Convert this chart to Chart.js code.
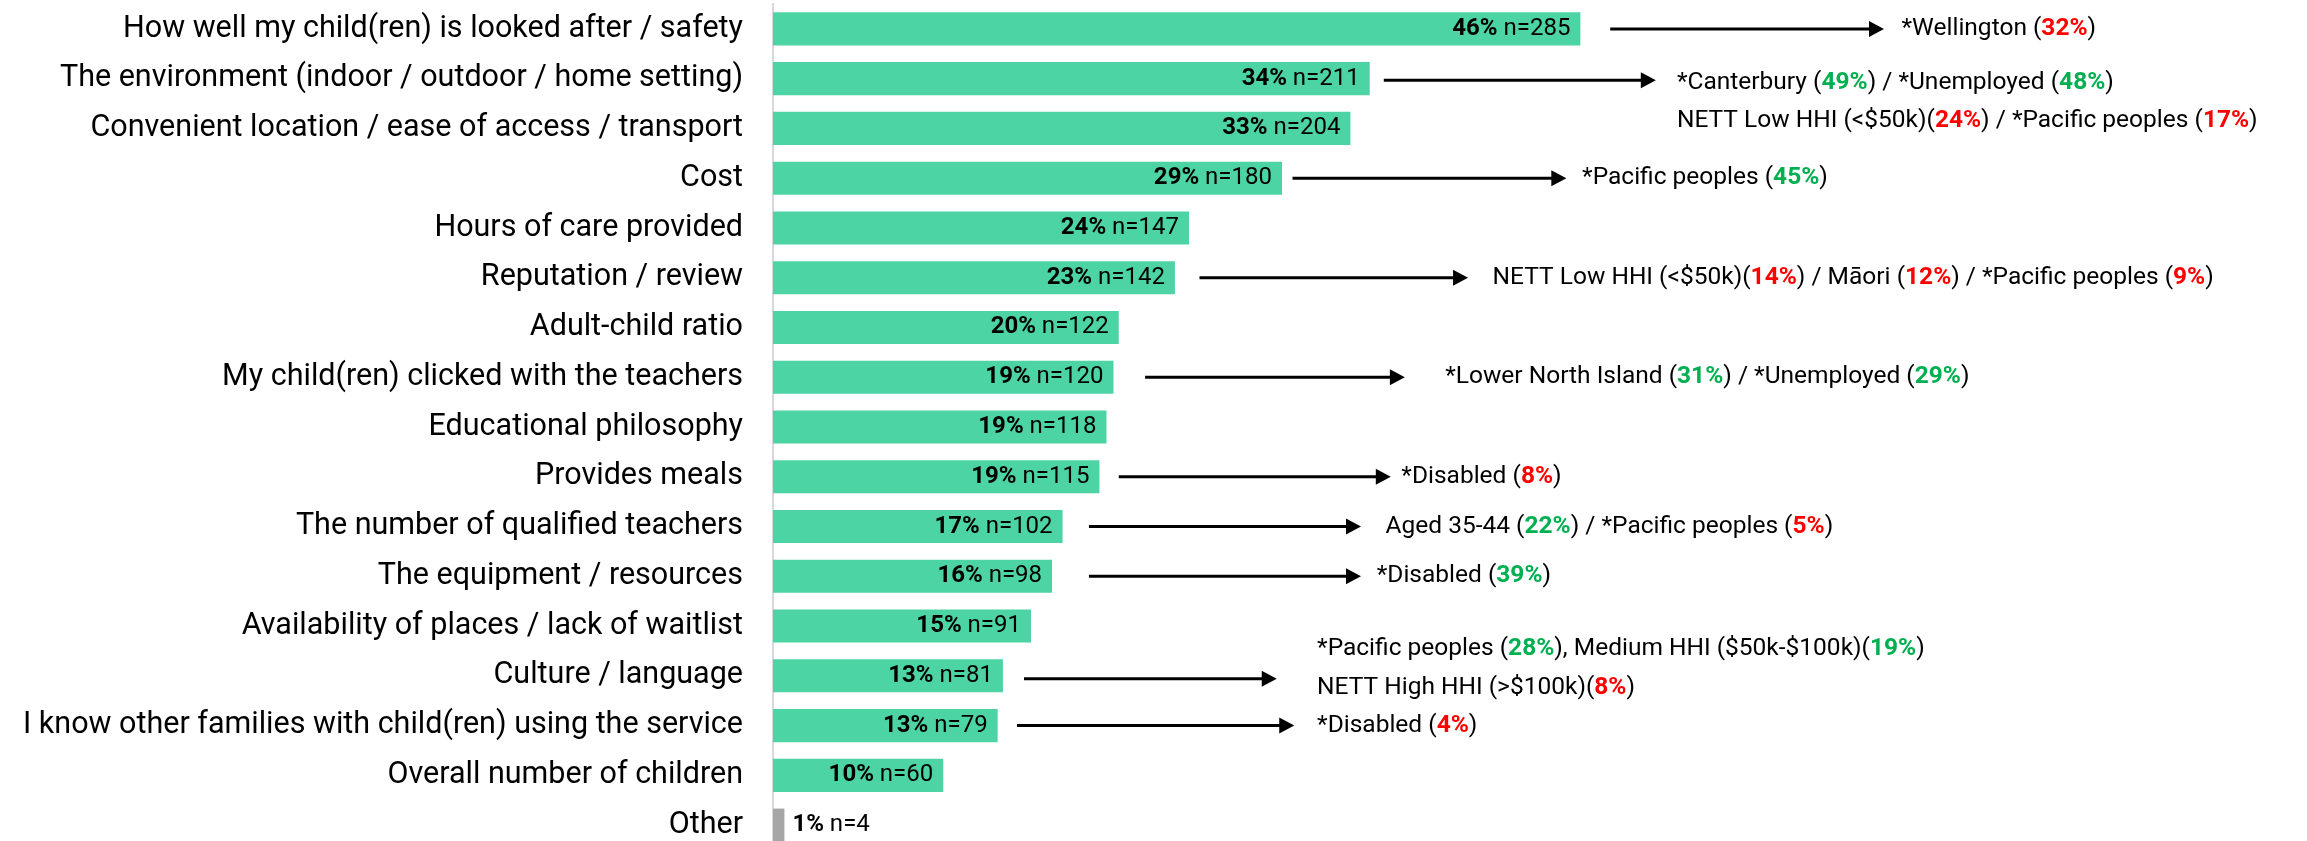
<!DOCTYPE html>
<html>
<head>
<meta charset="utf-8">
<script src="https://cdn.jsdelivr.net/npm/chart.js@4/dist/chart.umd.min.js"></script>
<style>
  html, body { margin: 0; padding: 0; background: #fff; overflow: hidden; }
  #chart { display: block; }
</style>
</head>
<body>
<canvas id="chart" width="2307" height="852"></canvas>
<script>
const categories = [
  'How well my child(ren) is looked after / safety',
  'The environment (indoor / outdoor / home setting)',
  'Convenient location / ease of access / transport',
  'Cost',
  'Hours of care provided',
  'Reputation / review',
  'Adult-child ratio',
  'My child(ren) clicked with the teachers',
  'Educational philosophy',
  'Provides meals',
  'The number of qualified teachers',
  'The equipment / resources',
  'Availability of places / lack of waitlist',
  'Culture / language',
  'I know other families with child(ren) using the service',
  'Overall number of children',
  'Other'
];
const pctValues = [46.0, 34.0, 32.9, 29.0, 23.7, 22.9, 19.7, 19.4, 19.0, 18.6, 16.5, 15.9, 14.7, 13.1, 12.8, 9.7, 0.65];
const pctLabels = ['46%','34%','33%','29%','24%','23%','20%','19%','19%','19%','17%','16%','15%','13%','13%','10%','1%'];
const counts    = [285, 211, 204, 180, 147, 142, 122, 120, 118, 115, 102, 98, 91, 81, 79, 60, 4];

// callouts: row, arrow from/to and text start in % units, {g:..} = green higher, {r:..} = red lower
const callouts = [
  { row: 0,  from: 47.7, to: 63.3, at: 64.3, lines: [['*Wellington ({r:32%})', 0]] },
  { row: 1,  from: 34.8, to: 50.3, at: 51.5, arrowDy: 0.03,
    lines: [['*Canterbury ({g:49%}) / *Unemployed ({g:48%})', 0.08],
            ['NETT Low HHI (<$50k)({r:24%}) / *Pacific peoples ({r:17%})', 0.85]] },
  { row: 3,  from: 29.6, to: 45.2, at: 46.1, lines: [['*Pacific peoples ({g:45%})', 0]] },
  { row: 5,  from: 24.3, to: 39.6, at: 41.0,
    lines: [['NETT Low HHI (<$50k)({r:14%}) / Māori ({r:12%}) / *Pacific peoples ({r:9%})', 0]] },
  { row: 7,  from: 21.2, to: 36.0, at: 38.3,
    lines: [['*Lower North Island ({g:31%}) / *Unemployed ({g:29%})', 0]] },
  { row: 9,  from: 19.7, to: 35.2, at: 35.8, lines: [['*Disabled ({r:8%})', 0]] },
  { row: 10, from: 18.0, to: 33.5, at: 34.9,
    lines: [['Aged 35-44 ({g:22%}) / *Pacific peoples ({r:5%})', 0]] },
  { row: 11, from: 18.0, to: 33.5, at: 34.4, lines: [['*Disabled ({g:39%})', 0]] },
  { row: 13, from: 14.3, to: 28.7, at: 31.0, arrowDy: 0.06,
    lines: [['*Pacific peoples ({g:28%}), Medium HHI ($50k-$100k)({g:19%})', -0.54],
            ['NETT High HHI (>$100k)({r:8%})', 0.25]] },
  { row: 14, from: 13.9, to: 29.7, at: 31.0, lines: [['*Disabled ({r:4%})', 0]] }
];

const COLORS = {
  bar:   '#4CD4A4',
  other: '#A6A6A6',
  axis:  '#D9D9D9',
  text:  '#000000',
  green: '#00B050',
  red:   '#FF0000'
};
const FONT = "Roboto, 'Liberation Sans', sans-serif";

// ── bar end labels ────────────────────────────────────────
const barLabels = {
  id: 'barLabels',
  afterDatasetsDraw(chart) {
    const ctx = chart.ctx;
    const meta = chart.getDatasetMeta(0);
    ctx.save();
    ctx.textBaseline = 'middle';
    ctx.fillStyle = COLORS.text;
    meta.data.forEach((bar, i) => {
      const bold = pctLabels[i];
      const reg = ' n=' + counts[i];
      ctx.font = `bold 24px ${FONT}`;
      const wb = ctx.measureText(bold).width;
      ctx.font = `24px ${FONT}`;
      const wr = ctx.measureText(reg).width;
      const inside = (bar.x - bar.base) > wb + wr + 20;
      const start = inside ? bar.x - 10 - wb - wr : bar.x + 8;
      ctx.font = `bold 24px ${FONT}`;
      ctx.fillText(bold, start, bar.y);
      ctx.font = `24px ${FONT}`;
      ctx.fillText(reg, start + wb, bar.y);
    });
    ctx.restore();
  }
};

// ── arrows + subgroup callouts ────────────────────────────
function parseSegs(s) {
  const out = [];
  const re = /\{([gr]):([^}]*)\}/g;
  let last = 0, m;
  while ((m = re.exec(s))) {
    if (m.index > last) out.push({ t: s.slice(last, m.index), c: COLORS.text, b: false });
    out.push({ t: m[2], c: m[1] === 'g' ? COLORS.green : COLORS.red, b: true });
    last = re.lastIndex;
  }
  if (last < s.length) out.push({ t: s.slice(last), c: COLORS.text, b: false });
  return out;
}

const calloutPlugin = {
  id: 'callouts',
  afterDraw(chart) {
    const ctx = chart.ctx;
    const xs = chart.scales.x, ys = chart.scales.y;
    ctx.save();
    callouts.forEach(co => {
      const y = ys.getPixelForValue(co.row + (co.arrowDy || 0));
      const x1 = xs.getPixelForValue(co.from);
      const x2 = xs.getPixelForValue(co.to);
      ctx.strokeStyle = '#000';
      ctx.fillStyle = '#000';
      ctx.lineWidth = 3;
      ctx.beginPath();
      ctx.moveTo(x1, y);
      ctx.lineTo(x2 - 12, y);
      ctx.stroke();
      ctx.beginPath();
      ctx.moveTo(x2, y);
      ctx.lineTo(x2 - 15, y - 8);
      ctx.lineTo(x2 - 15, y + 8);
      ctx.closePath();
      ctx.fill();

      ctx.textBaseline = 'middle';
      co.lines.forEach(([txt, dy]) => {
        let x = xs.getPixelForValue(co.at);
        const ly = ys.getPixelForValue(co.row + dy);
        parseSegs(txt).forEach(seg => {
          ctx.font = `${seg.b ? 'bold ' : ''}24.5px ${FONT}`;
          ctx.fillStyle = seg.c;
          ctx.fillText(seg.t, x, ly);
          x += ctx.measureText(seg.t).width;
        });
      });
    });
    ctx.restore();
  }
};

Chart.defaults.font.family = FONT;

new Chart(document.getElementById('chart'), {
  type: 'bar',
  data: {
    labels: categories,
    datasets: [{
      data: pctValues,
      backgroundColor: pctValues.map((v, i) => i === categories.length - 1 ? COLORS.other : COLORS.bar),
      borderWidth: 0,
      barPercentage: 0.665,
      categoryPercentage: 1
    }]
  },
  options: {
    indexAxis: 'y',
    responsive: false,
    animation: false,
    layout: { padding: { top: 4, bottom: 2, left: 0, right: 0 } },
    plugins: {
      legend: { display: false },
      tooltip: { enabled: false }
    },
    scales: {
      x: {
        display: false,
        min: 0,
        max: 87.4
      },
      y: {
        afterFit: s => { s.width = 773; s.paddingTop = 0; s.paddingBottom = 0; },
        grid: { display: false, drawTicks: false },
        border: { display: true, color: COLORS.axis, width: 2 },
        ticks: {
          color: COLORS.text,
          padding: 30,
          font: { size: 30.5, family: FONT }
        }
      }
    }
  },
  plugins: [barLabels, calloutPlugin]
});
</script>
</body>
</html>
